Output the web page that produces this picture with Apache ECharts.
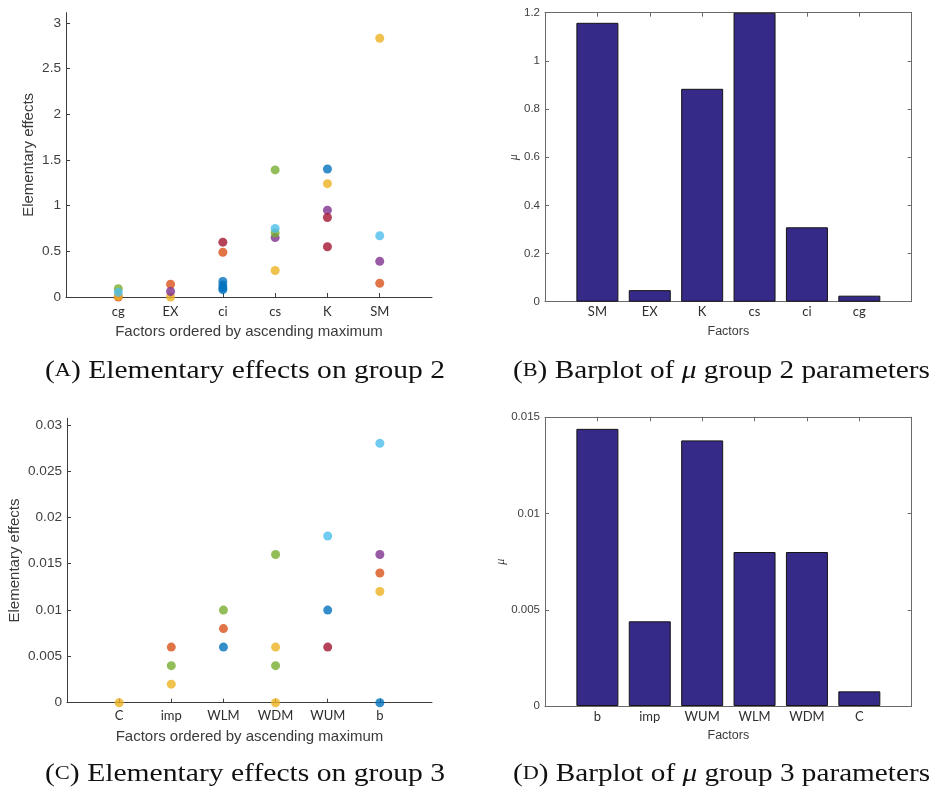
<!DOCTYPE html>
<html>
<head>
<meta charset="utf-8">
<script src="https://cdn.jsdelivr.net/npm/echarts@6/dist/echarts.min.js"></script>
<style>
  html, body { margin: 0; padding: 0; background: #fff; }
  #chart { width: 933px; height: 794px; }
</style>
</head>
<body>
<div id="chart"></div>
<script>
// ---- Group 2: factors ordered by ascending maximum ----
const factorsG2 = ['cg', 'EX', 'ci', 'cs', 'K', 'SM'];
const ticksG2 = [0, 0.5, 1, 1.5, 2, 2.5, 3];
// Elementary effects per trajectory colour, as [factor, effect]
const g2Blue   = [['ci', 0.17], ['ci', 0.13], ['ci', 0.10], ['ci', 0.08], ['K', 1.40]];
const g2Orange = [['cg', 0.00], ['EX', 0.14], ['ci', 0.49], ['SM', 0.15]];
const g2Yellow = [['cg', 0.01], ['EX', 0.00], ['cs', 0.29], ['K', 1.24], ['SM', 2.83]];
const g2Purple = [['EX', 0.06], ['cs', 0.65], ['K', 0.95], ['SM', 0.39]];
const g2Green  = [['cg', 0.09], ['cs', 1.39], ['cs', 0.70]];
const g2Sky    = [['cg', 0.05], ['cs', 0.75], ['SM', 0.67]];
const g2Wine   = [['ci', 0.60], ['K', 0.87], ['K', 0.55]];

// Mean effect μ of the group 2 parameters
const muFactorsG2 = ['SM', 'EX', 'K', 'cs', 'ci', 'cg'];
const muG2 = [1.158, 0.048, 0.884, 1.2, 0.309, 0.025];
const muTicksG2 = [0, 0.2, 0.4, 0.6, 0.8, 1, 1.2];

// ---- Group 3 ----
const factorsG3 = ['C', 'imp', 'WLM', 'WDM', 'WUM', 'b'];
const ticksG3 = [0, 0.005, 0.01, 0.015, 0.02, 0.025, 0.03];
const g3Blue   = [['WLM', 0.006], ['WUM', 0.010], ['b', 0.0]];
const g3Orange = [['imp', 0.006], ['WLM', 0.008], ['b', 0.014]];
const g3Yellow = [['C', 0.0], ['imp', 0.002], ['WDM', 0.006], ['WDM', 0.0], ['b', 0.012]];
const g3Purple = [['b', 0.016]];
const g3Green  = [['imp', 0.004], ['WLM', 0.010], ['WDM', 0.016], ['WDM', 0.004]];
const g3Sky    = [['WUM', 0.018], ['b', 0.028]];
const g3Wine   = [['WUM', 0.006]];

const muFactorsG3 = ['b', 'imp', 'WUM', 'WLM', 'WDM', 'C'];
const muG3 = [0.0144, 0.0044, 0.0138, 0.008, 0.008, 0.00076];
const muTicksG3 = [0, 0.005, 0.01, 0.015];

// ---- Styling ----
const NUM_FONT = '"Liberation Sans", Arial, sans-serif';
const CAT_FONT = 'Lato, "Open Sans", sans-serif';
const CAP_FONT = '"Liberation Serif", "DejaVu Serif", serif';
const AXIS = '#3c3c3c';
const BOX = '#6a6a6a';
const BAR = '#352A87';
const TRAJ = {
  blue: '#0072BD', orange: '#D95319', yellow: '#EDB120', purple: '#7E2F8E',
  green: '#77AC30', sky: '#4DBEEE', wine: '#A2142F'
};
const POS = [1, 2, 3, 4, 5, 6];

const grids = [
  { left: 66,  top: 12.7,  width: 366,   height: 284.3 },
  { left: 545, top: 12.7,  width: 366.7, height: 289 },
  { left: 67,  top: 418.3, width: 365,   height: 284.4 },
  { left: 545, top: 417.3, width: 366.7, height: 288.7 }
];

function factorAxis(gridIndex, names, o) {
  return {
    gridIndex, type: 'value', min: 0, max: 7, interval: 1,
    position: o.top ? 'top' : 'bottom',
    axisLine: { show: true, onZero: false, lineStyle: { color: o.box ? BOX : AXIS, width: 1 } },
    axisTick: { show: true, inside: true, length: 4, customValues: POS, lineStyle: { color: o.box ? BOX : AXIS } },
    axisLabel: {
      show: !o.top, customValues: POS, margin: o.margin || 6,
      formatter: v => names[v - 1] || '',
      fontFamily: CAT_FONT, fontSize: 13, color: '#2e2e2e'
    },
    splitLine: { show: false },
    name: o.name || '', nameLocation: 'middle', nameGap: o.nameGap || 25,
    nameTextStyle: { fontFamily: NUM_FONT, fontSize: o.nameSize || 15, color: '#3a3a3a' }
  };
}

function valueAxis(gridIndex, ticks, max, o) {
  return {
    gridIndex, type: 'value', min: 0, max,
    position: o.right ? 'right' : 'left',
    axisLine: { show: true, onZero: false, lineStyle: { color: o.box ? BOX : AXIS, width: 1 } },
    axisTick: { show: true, inside: true, length: 4, customValues: ticks, lineStyle: { color: o.box ? BOX : AXIS } },
    axisLabel: {
      show: !o.right, customValues: ticks, margin: 5,
      formatter: v => String(v),
      fontFamily: NUM_FONT, fontSize: o.labelSize || 13.6, color: '#404040'
    },
    splitLine: { show: false },
    name: o.name || '', nameLocation: 'middle', nameRotate: 90, nameGap: o.nameGap || 30,
    nameTextStyle: o.nameStyle || { fontFamily: NUM_FONT, fontSize: 15, color: '#3a3a3a' }
  };
}

function effectSeries(points, names, color, axisIndex) {
  return {
    type: 'scatter', xAxisIndex: axisIndex, yAxisIndex: axisIndex,
    symbol: 'circle', symbolSize: 9,
    itemStyle: { color },
    data: points.map(([f, v]) => [names.indexOf(f) + 1, v])
  };
}

function muSeries(values, axisIndex) {
  return {
    type: 'bar', xAxisIndex: axisIndex, yAxisIndex: axisIndex,
    barWidth: 42,
    itemStyle: { color: BAR, borderColor: '#151515', borderWidth: 1 },
    data: values.map((v, i) => [i + 1, v])
  };
}

const muName = { fontFamily: CAP_FONT, fontStyle: 'italic', fontSize: 12, color: '#333' };

// Axis order: 0 = A, 1 = B bottom/left, 2 = B top/right, 3 = C, 4 = D bottom/left, 5 = D top/right
const xAxes = [
  factorAxis(0, factorsG2, { name: 'Factors ordered by ascending maximum', nameGap: 27, margin: 8 }),
  factorAxis(1, muFactorsG2, { box: true, name: 'Factors', nameGap: 23, nameSize: 12.5, margin: 4 }),
  factorAxis(1, muFactorsG2, { box: true, top: true }),
  factorAxis(2, factorsG3, { name: 'Factors ordered by ascending maximum', nameGap: 27, margin: 7 }),
  factorAxis(3, muFactorsG3, { box: true, name: 'Factors', nameGap: 23, nameSize: 12.5, margin: 4 }),
  factorAxis(3, muFactorsG3, { box: true, top: true })
];
const yAxes = [
  valueAxis(0, ticksG2, 3.11, { name: 'Elementary effects', nameGap: 29.5 }),
  valueAxis(1, muTicksG2, 1.2, { box: true, name: 'μ', nameGap: 24, labelSize: 11.5, nameStyle: muName }),
  valueAxis(1, muTicksG2, 1.2, { box: true, right: true }),
  valueAxis(2, ticksG3, 0.0307, { name: 'Elementary effects', nameGap: 45 }),
  valueAxis(3, muTicksG3, 0.015, { box: true, name: 'μ', nameGap: 36, labelSize: 11.5, nameStyle: muName }),
  valueAxis(3, muTicksG3, 0.015, { box: true, right: true })
];

const series = [
  effectSeries(g2Blue, factorsG2, TRAJ.blue, 0),
  effectSeries(g2Orange, factorsG2, TRAJ.orange, 0),
  effectSeries(g2Yellow, factorsG2, TRAJ.yellow, 0),
  effectSeries(g2Purple, factorsG2, TRAJ.purple, 0),
  effectSeries(g2Green, factorsG2, TRAJ.green, 0),
  effectSeries(g2Sky, factorsG2, TRAJ.sky, 0),
  effectSeries(g2Wine, factorsG2, TRAJ.wine, 0),
  muSeries(muG2, 1),
  effectSeries(g3Blue, factorsG3, TRAJ.blue, 3),
  effectSeries(g3Orange, factorsG3, TRAJ.orange, 3),
  effectSeries(g3Yellow, factorsG3, TRAJ.yellow, 3),
  effectSeries(g3Purple, factorsG3, TRAJ.purple, 3),
  effectSeries(g3Green, factorsG3, TRAJ.green, 3),
  effectSeries(g3Sky, factorsG3, TRAJ.sky, 3),
  effectSeries(g3Wine, factorsG3, TRAJ.wine, 3),
  muSeries(muG3, 4)
];

// ---- Sub-figure captions (serif, small-caps letter, italic μ) ----
const CAP_SIZE = 25, SC_SIZE = 19;
const measureCtx = document.createElement('canvas').getContext('2d');
function segWidth(text, size, italic) {
  measureCtx.font = (italic ? 'italic ' : '') + size + 'px ' + CAP_FONT;
  return measureCtx.measureText(text).width;
}
function caption(letter, parts, x, y, width) {
  let text = '{n|(}{s|' + letter + '}{n|)}';
  let w = segWidth('(', CAP_SIZE) + segWidth(letter, SC_SIZE) + segWidth(')', CAP_SIZE);
  parts.forEach(([t, it]) => {
    text += '{' + (it ? 'i' : 'n') + '|' + t + '}';
    w += segWidth(t, CAP_SIZE, it);
  });
  return {
    type: 'text', x, y, scaleX: width / w, silent: true,
    style: {
      text, align: 'left', verticalAlign: 'middle', fill: '#111',
      rich: {
        n: { fontFamily: CAP_FONT, fontSize: CAP_SIZE, fill: '#111' },
        s: { fontFamily: CAP_FONT, fontSize: SC_SIZE, fill: '#111' },
        i: { fontFamily: CAP_FONT, fontSize: CAP_SIZE, fontStyle: 'italic', fill: '#111' }
      }
    }
  };
}

const graphics = [
  caption('A', [[' Elementary effects on group 2', false]], 45, 371, 400),
  caption('B', [[' Barplot of ', false], ['μ', true], [' group 2 parameters', false]], 513, 371, 417),
  caption('C', [[' Elementary effects on group 3', false]], 45, 774, 400),
  caption('D', [[' Barplot of ', false], ['μ', true], [' group 3 parameters', false]], 513, 774, 417)
];

const chart = echarts.init(document.getElementById('chart'), null, { renderer: 'canvas' });
chart.setOption({
  animation: false,
  backgroundColor: '#fff',
  grid: grids.map(g => Object.assign({ containLabel: false, outerBoundsMode: 'none' }, g)),
  xAxis: xAxes,
  yAxis: yAxes,
  series,
  graphic: graphics
});
</script>
</body>
</html>
